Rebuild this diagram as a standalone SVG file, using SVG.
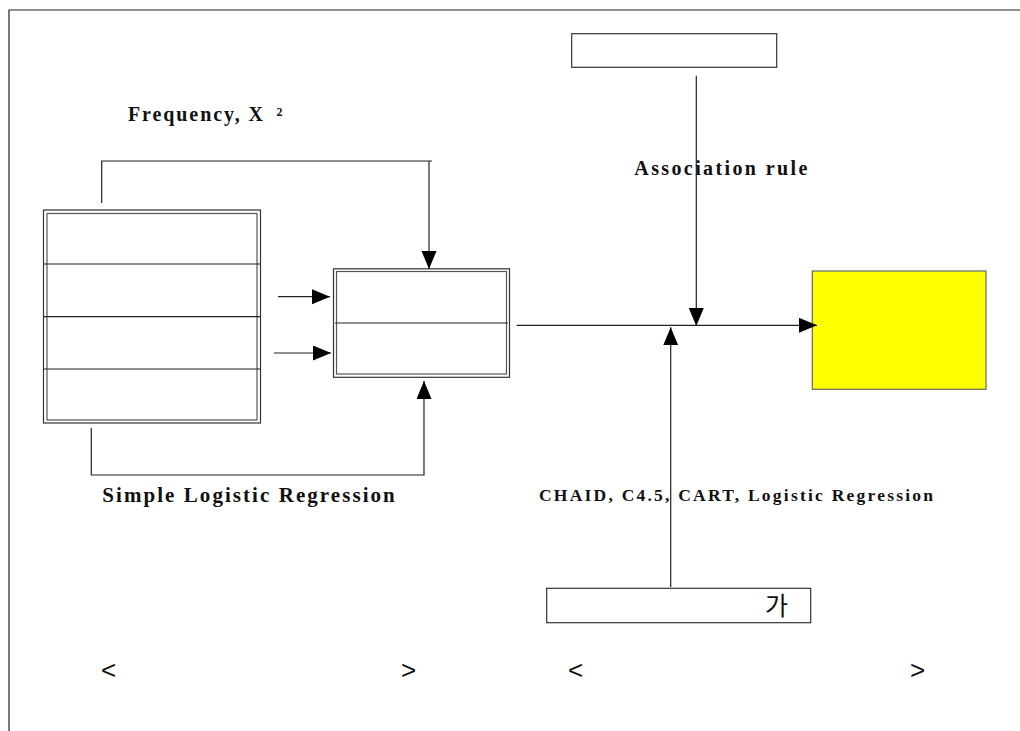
<svg xmlns="http://www.w3.org/2000/svg" width="1020" height="731" viewBox="0 0 1020 731">
<style>
.ln{stroke:#222;stroke-width:1.2;fill:none}
.box{fill:#fff;stroke:#333;stroke-width:1.2}
.inner{fill:none;stroke:#555;stroke-width:1.2}
.lbl{font-family:"Liberation Serif","Times New Roman",serif;font-weight:bold;fill:#111}
.sym{font-family:"Liberation Sans",Arial,sans-serif;fill:#111}
</style>
<defs>
<marker id="arr" markerUnits="userSpaceOnUse" markerWidth="19" markerHeight="16" refX="18" refY="7.5" orient="auto">
<path d="M0,0 L18,7.5 L0,15 z" fill="#000"/>
</marker>
</defs>
<rect width="1020" height="731" fill="#fff"/>
<g id="frame">
<path class="ln" d="M9,731 V10 H1020" stroke-width="1.5"/>
</g>
<g id="node-left">
<rect class="box" x="43.5" y="210" width="217" height="213"/>
<rect class="inner" x="47" y="213.5" width="210" height="206.5"/>
<line class="ln" x1="43.5" y1="264" x2="260.5" y2="264"/>
<line class="ln" x1="43.5" y1="316.7" x2="260.5" y2="316.7"/>
<line class="ln" x1="43.5" y1="369" x2="260.5" y2="369"/>
</g>
<g id="node-mid">
<rect class="box" x="333.5" y="268.8" width="176" height="108.5"/>
<rect class="inner" x="336.5" y="271.5" width="170" height="102.5"/>
<line class="ln" x1="335" y1="323" x2="508" y2="323"/>
</g>
<g id="node-top">
<rect class="box" x="571.7" y="33.7" width="205" height="33.6"/>
</g>
<g id="node-bottom">
<rect class="box" x="546.7" y="588.3" width="264" height="34.4"/>
<text x="765" y="615" font-family="'Noto Sans CJK KR','Noto Sans',sans-serif" font-size="25" fill="#111">가</text>
</g>
<g id="node-result">
<rect x="812.3" y="271" width="173.7" height="118.3" fill="#ffff00" stroke="#666" stroke-width="1.2"/>
</g>
<g id="connectors">
<path class="ln" d="M101.7,203 V161 H432"/>
<path class="ln" d="M429,161 V269" marker-end="url(#arr)"/>
<path class="ln" d="M278,296.7 H330" marker-end="url(#arr)"/>
<path class="ln" d="M274,353 H331" marker-end="url(#arr)"/>
<path class="ln" d="M91.3,428 V475 H424 V381" marker-end="url(#arr)"/>
<path class="ln" d="M696.3,75.7 V326" marker-end="url(#arr)"/>
<path class="ln" d="M516.7,325.3 H817" marker-end="url(#arr)"/>
<path class="ln" d="M670.7,587 V327.3" marker-end="url(#arr)"/>
</g>
<g id="labels">
<text class="lbl" x="128" y="121" font-size="20" textLength="135" lengthAdjust="spacing">Frequency, X</text>
<text class="lbl" x="276.5" y="116" font-size="12">2</text>
<text class="lbl" x="634.3" y="175" font-size="20" textLength="173" lengthAdjust="spacing">Association rule</text>
<text class="lbl" x="102.3" y="502" font-size="21" textLength="292.5" lengthAdjust="spacing">Simple Logistic Regression</text>
<text class="lbl" x="539" y="500.7" font-size="17.5" textLength="394" lengthAdjust="spacing">CHAID, C4.5, CART, Logistic Regression</text>
<text class="sym" x="101" y="679" font-size="26">&lt;</text>
<text class="sym" x="401" y="679" font-size="26">&gt;</text>
<text class="sym" x="568" y="679" font-size="26">&lt;</text>
<text class="sym" x="910" y="679" font-size="26">&gt;</text>
</g>
</svg>
